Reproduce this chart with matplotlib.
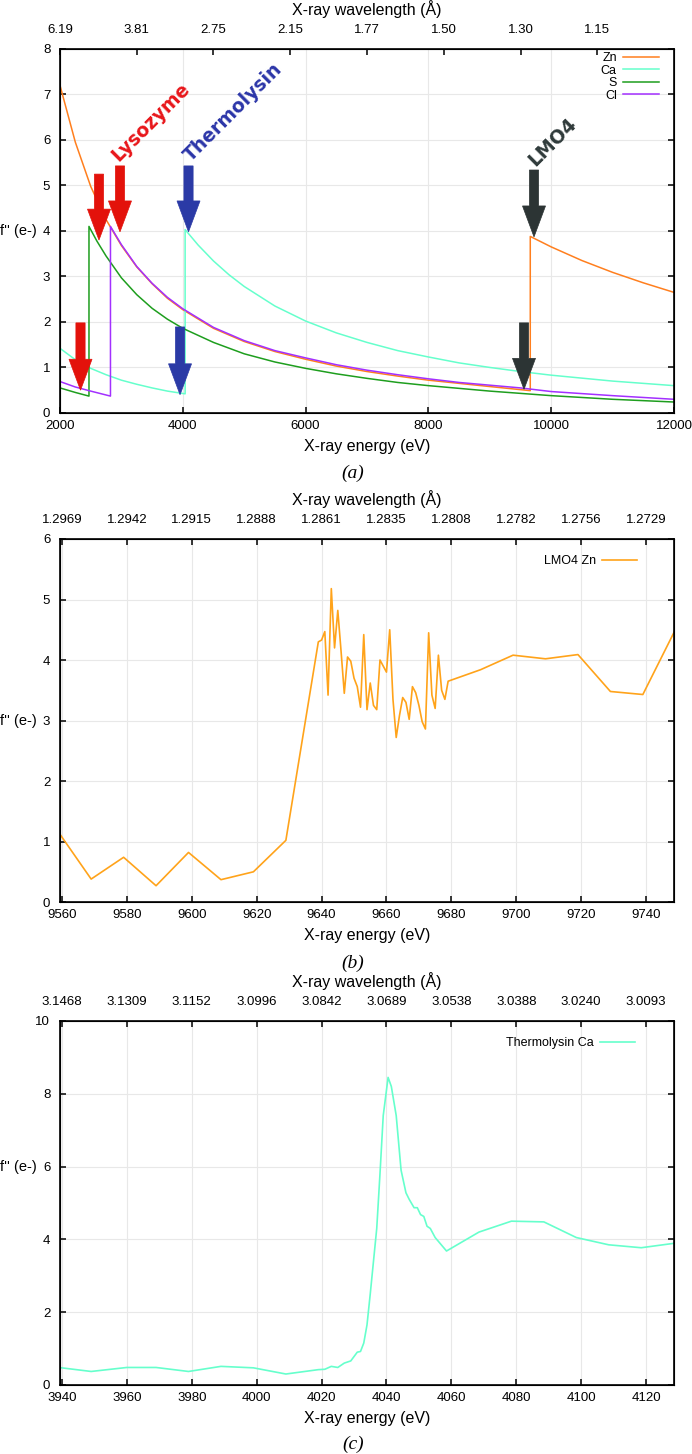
import matplotlib
matplotlib.use('Agg')
import matplotlib.pyplot as plt
from matplotlib.patches import FancyArrow

plt.rcParams['font.family'] = ['Liberation Sans', 'DejaVu Sans']

# ---------------- panel (a): theoretical f'' curves ----------------
zn_e = [2000, 2250, 2500, 2750, 3000, 3250, 3500, 3750, 4000, 4500, 5000, 5500, 6000, 6500,
        7000, 7500, 8000, 8500, 9000, 9659, 9659, 10000, 10500, 11000, 11500, 12000]
zn_f = [7.20, 5.95, 4.98, 4.25, 3.68, 3.21, 2.84, 2.52, 2.27, 1.86, 1.57, 1.35, 1.18, 1.03,
        0.91, 0.81, 0.72, 0.65, 0.58, 0.49, 3.88, 3.65, 3.35, 3.09, 2.86, 2.65]

ca_e = [2000, 2250, 2500, 2750, 3000, 3250, 3500, 3750, 4038, 4038, 4250, 4500, 4750, 5000,
        5500, 6000, 6500, 7000, 7500, 8000, 8500, 9000, 9500, 10000, 11000, 12000]
ca_f = [1.42, 1.17, 0.98, 0.84, 0.72, 0.63, 0.55, 0.48, 0.42, 4.03, 3.69, 3.34, 3.04, 2.78,
        2.35, 2.02, 1.76, 1.55, 1.37, 1.23, 1.10, 1.00, 0.91, 0.83, 0.70, 0.60]

s_e = [2000, 2250, 2472, 2472, 2600, 2750, 3000, 3250, 3500, 3750, 4000, 4500, 5000, 5500,
       6000, 6500, 7000, 7500, 8000, 9000, 10000, 11000, 12000]
s_f = [0.55, 0.45, 0.37, 4.10, 3.78, 3.45, 2.97, 2.60, 2.30, 2.06, 1.86, 1.55, 1.30, 1.12,
       0.98, 0.86, 0.76, 0.67, 0.60, 0.48, 0.38, 0.30, 0.24]

cl_e = [2000, 2250, 2500, 2822, 2822, 3000, 3250, 3500, 3750, 4000, 4500, 5000, 5500, 6000,
        6500, 7000, 7500, 8000, 8500, 9000, 9500, 10000, 11000, 12000]
cl_f = [0.69, 0.57, 0.48, 0.37, 4.10, 3.70, 3.22, 2.85, 2.54, 2.29, 1.88, 1.59, 1.37, 1.21,
        1.06, 0.94, 0.84, 0.75, 0.67, 0.61, 0.55, 0.47, 0.38, 0.30]

a_top_e = [2000, 3250, 4500, 5750, 7000, 8250, 9500, 10750]
a_top_labels = ['6.19', '3.81', '2.75', '2.15', '1.77', '1.50', '1.30', '1.15']

# block arrows marking the measured energies
arrow_e = [2334, 2635, 2977, 4093, 3955, 9720, 9557]
arrow_top = [1.98, 5.25, 5.43, 5.43, 1.89, 5.34, 1.98]
arrow_tip = [0.50, 3.80, 3.98, 3.98, 0.40, 3.87, 0.52]
arrow_col = ['#e3120b', '#e3120b', '#e3120b', '#2b3aa6', '#2b3aa6', '#2c3434', '#2c3434']

proteins = ['Lysozyme', 'Thermolysin', 'LMO4']
protein_e = [2945, 4133, 9736]
protein_f = [5.52, 5.52, 5.41]
protein_col = ['#e8161a', '#2b35a8', '#2f3a3a']

# ---------------- panel (b): LMO4 Zn edge scan ----------------
lmo4_e = [9559, 9569, 9579, 9589, 9599, 9609, 9619, 9629,
          9639, 9640, 9641, 9642, 9643, 9644, 9645, 9646, 9647, 9648, 9649, 9650,
          9651, 9652, 9653, 9654, 9655, 9656, 9657, 9658, 9659, 9660, 9661, 9662,
          9663, 9664, 9665, 9666, 9667, 9668, 9669, 9670, 9671, 9672, 9673, 9674,
          9675, 9676, 9677, 9678, 9679,
          9689, 9699, 9709, 9719, 9729, 9739, 9749]
lmo4_f = [1.15, 0.38, 0.74, 0.27, 0.82, 0.37, 0.50, 1.02,
          4.30, 4.33, 4.47, 3.42, 5.18, 4.20, 4.82, 4.15, 3.45, 4.05, 3.98, 3.70,
          3.56, 3.22, 4.42, 3.18, 3.62, 3.25, 3.18, 4.00, 3.90, 3.80, 4.50, 3.35,
          2.72, 3.08, 3.38, 3.30, 3.02, 3.56, 3.46, 3.25, 2.98, 2.86, 4.45, 3.42,
          3.20, 4.08, 3.50, 3.35, 3.65,
          3.84, 4.08, 4.02, 4.09, 3.48, 3.43, 4.50]
b_ticks = [9560, 9580, 9600, 9620, 9640, 9660, 9680, 9700, 9720, 9740]
b_top_labels = ['1.2969', '1.2942', '1.2915', '1.2888', '1.2861', '1.2835', '1.2808',
                '1.2782', '1.2756', '1.2729']

# ---------------- panel (c): Thermolysin Ca edge scan ----------------
therm_e = [3939, 3949, 3960, 3969, 3979, 3989, 3999, 4009, 4019, 4021, 4023, 4025,
           4027, 4029, 4031, 4032, 4033, 4034, 4035, 4036, 4037, 4038, 4039, 4040.5,
           4041.5, 4043, 4044.5, 4046, 4047, 4048.5, 4049.5, 4050.5, 4051.5, 4052.5,
           4053.5, 4055, 4058.5, 4068.5, 4078.5, 4088.5, 4098.5, 4108.5, 4118.5, 4128.5]
therm_f = [0.48, 0.37, 0.48, 0.48, 0.37, 0.51, 0.47, 0.30, 0.42, 0.43, 0.51, 0.48,
           0.60, 0.66, 0.90, 0.92, 1.15, 1.65, 2.50, 3.40, 4.30, 5.80, 7.40, 8.45,
           8.20, 7.40, 5.90, 5.28, 5.10, 4.87, 4.87, 4.68, 4.63, 4.36,
           4.30, 4.05, 3.68, 4.20, 4.50, 4.48, 4.05, 3.85, 3.77, 3.89]
c_ticks = [3940, 3960, 3980, 4000, 4020, 4040, 4060, 4080, 4100, 4120]
c_top_labels = ['3.1468', '3.1309', '3.1152', '3.0996', '3.0842', '3.0689', '3.0538',
                '3.0388', '3.0240', '3.0093']


def style_axes(ax, xlim, ylim, xticks, yticks, top_ticks, top_labels, ylab_pos=0.5):
    ax.set_xlim(xlim)
    ax.set_ylim(ylim)
    ax.set_xticks(xticks)
    ax.set_yticks(yticks)
    ax.grid(True, color='#e8e8e8', lw=0.8)
    ax.set_axisbelow(True)
    ax.tick_params(direction='in', length=4, width=1.1, labelsize=9.5, right=True)
    ax.tick_params(axis='x', pad=5)
    ax.tick_params(axis='y', pad=7)
    for s in ax.spines.values():
        s.set_linewidth(1.2)
    ax.set_xlabel('X-ray energy (eV)', fontsize=11.5, labelpad=5)
    ax.set_ylabel("f'' (e-)", rotation=0, fontsize=10.5, ha='right', va='center')
    ax.yaxis.set_label_coords(-0.038, ylab_pos)
    top = ax.twiny()
    top.set_xlim(xlim)
    top.set_xticks(top_ticks)
    top.set_xticklabels(top_labels)
    top.tick_params(direction='in', length=4, width=1.1, labelsize=9.5, pad=9)
    top.set_xlabel('X-ray wavelength (\u00c5)', fontsize=11.5, labelpad=7)
    return top


fig = plt.figure(figsize=(6.92, 14.54), dpi=100)

# (a)
ax1 = fig.add_axes([0.0867, 0.7160, 0.8873, 0.2503])
ax1.plot(zn_e, zn_f, color='#ff7f1e', lw=1.1, label='Zn')
ax1.plot(ca_e, ca_f, color='#66ffcc', lw=1.1, label='Ca')
ax1.plot(s_e, s_f, color='#1e9e1e', lw=1.1, label='S')
ax1.plot(cl_e, cl_f, color='#a330ff', lw=1.1, label='Cl')
for e, t, tip, c in zip(arrow_e, arrow_top, arrow_tip, arrow_col):
    ax1.add_patch(FancyArrow(e, t, 0, tip - t, width=150, head_width=375, head_length=0.68,
                             length_includes_head=True, fc=c, ec=c, lw=0.5, zorder=4))
for name, e, f, c in zip(proteins, protein_e, protein_f, protein_col):
    ax1.text(e, f, name, color=c, fontsize=13.5, fontweight='bold', family='DejaVu Sans',
             rotation=45, rotation_mode='anchor', ha='left', va='baseline', zorder=5)
style_axes(ax1, (2000, 12000), (0, 8), [2000, 4000, 6000, 8000, 10000, 12000],
           range(0, 9), a_top_e, a_top_labels)
ax1.legend(loc='upper right', bbox_to_anchor=(0.976, 0.992), frameon=False, markerfirst=False,
           fontsize=9, handlelength=2.9, handletextpad=0.5, labelspacing=0.05,
           borderaxespad=0, borderpad=0)

# (b)
ax2 = fig.add_axes([0.0867, 0.3796, 0.8873, 0.2497])
ax2.plot(lmo4_e, lmo4_f, color='#ffa31a', lw=1.2, label='LMO4 Zn')
style_axes(ax2, (9559.4, 9748.6), (0, 6), b_ticks, range(0, 7), b_ticks, b_top_labels)
ax2.legend(loc='upper right', bbox_to_anchor=(0.94, 0.956), frameon=False, markerfirst=False,
           fontsize=9, handlelength=2.8, handletextpad=0.5, borderaxespad=0, borderpad=0)

# (c)
ax3 = fig.add_axes([0.0867, 0.0475, 0.8873, 0.2503])
ax3.plot(therm_e, therm_f, color='#66ffcc', lw=1.2, label='Thermolysin Ca')
style_axes(ax3, (3939.4, 4128.6), (0, 10), c_ticks, range(0, 11, 2), c_ticks, c_top_labels,
           ylab_pos=0.6)
ax3.legend(loc='upper right', bbox_to_anchor=(0.936, 0.956), frameon=False, markerfirst=False,
           fontsize=9, handlelength=2.8, handletextpad=0.5, borderaxespad=0, borderpad=0)

for y, cap in zip([0.6747, 0.3377, 0.0069], ['(a)', '(b)', '(c)']):
    fig.text(0.51, y, cap, ha='center', va='center', fontsize=14,
             family='Liberation Serif', style='italic')

fig.savefig('out.png', dpi=100)
